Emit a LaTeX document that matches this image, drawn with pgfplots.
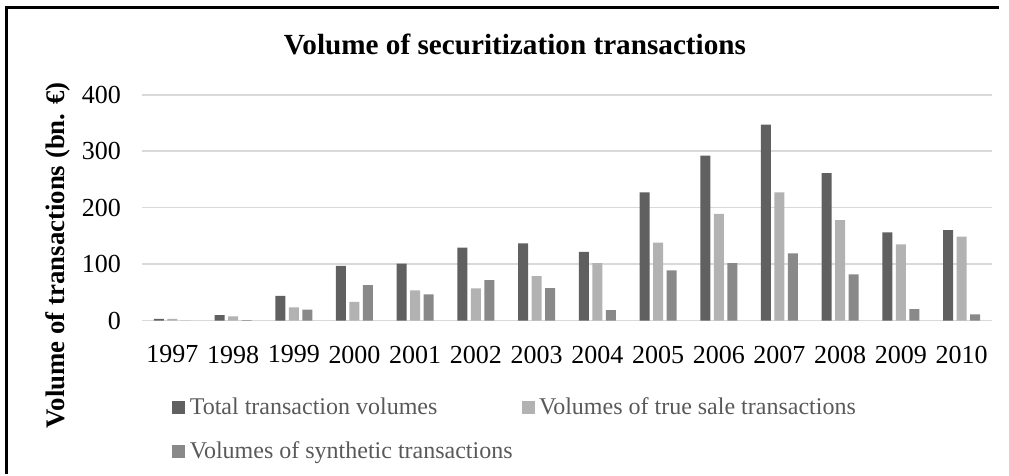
\documentclass[border=0pt]{standalone}
\usepackage{fontspec}
\setmainfont{Liberation Serif}
\usepackage{pgfplots}
\usepackage{pgfplotstable}
\pgfplotsset{compat=1.18}
\definecolor{cTot}{RGB}{96,96,96}
\definecolor{cTrue}{RGB}{178,178,178}
\definecolor{cSyn}{RGB}{137,137,137}
\definecolor{cGrid}{RGB}{217,217,217}
\definecolor{cLeg}{RGB}{89,89,89}

\pgfplotstableread{
x tot tru syn
0 3 3 0
1 10 7.6 1.2
2 44 23.5 19.4
3 97 33.5 63
4 101 53.5 46.5
5 129.5 57 72
6 137 79 57.6
7 122 102 18.8
8 227 138 89
9 292 189 102
10 347 227 119
11 261 178 82
12 156.5 135 20.6
13 160.5 149 11.2
}\datatable

\begin{document}
\begin{tikzpicture}
\path (0pt,0pt) rectangle (504.5pt,237pt);
\draw[line width=1.1pt] (3.25pt,0pt) -- (3.25pt,233.25pt) -- (499.5pt,233.25pt);
\node[anchor=base, font=\bfseries\fontsize{14.6}{17}\selectfont] at (257.5pt,209.5pt) {Volume of securitization transactions};
\begin{axis}[
  at={(71pt,76.65pt)}, anchor=south west,
  scale only axis, width=425pt, height=113pt,
  ybar=1.75pt, bar width=5pt,
  xmin=-0.5, xmax=13.5, ymin=0, ymax=400,
  ytick={0,100,200,300,400},
  xtick=data,
  xticklabels={1997,1998,1999,2000,2001,2002,2003,2004,2005,2006,2007,2008,2009,2010},
  axis line style={draw=none},
  major tick length=0pt,
  ymajorgrids, grid style={cGrid, line width=0.8pt},
  /pgf/number format/assume math mode=true,
  ticklabel style={font=\fontsize{13}{15}\selectfont},
  yticklabel style={xshift=-7pt},
  xticklabel style={yshift=-9pt},
  ylabel={\textbf{Volume of transactions (bn. €)}},
  ylabel style={at={(axis description cs:-0.0988,0.29)}, anchor=center, font=\fontsize{13.4}{15}\selectfont},
  legend columns=2,
  legend cell align=left,
  legend style={draw=none, fill=none, text=cLeg, font=\fontsize{12}{14}\selectfont,
    at={(axis description cs:0.0353,-0.330)}, anchor=north west,
    row sep=9.8pt, inner sep=0pt, nodes={inner sep=1pt},
    /tikz/every odd column/.append style={column sep=1.2pt},
    /tikz/every even column/.append style={column sep=3.5pt}},
  legend image code/.code={\fill[#1] (0pt,-3.25pt) rectangle (6.5pt,3.25pt);},
]
\addplot[fill=cTot, draw=none] table[x=x,y=tot]{\datatable};
\addplot[fill=cTrue, draw=none] table[x=x,y=tru]{\datatable};
\addplot[fill=cSyn, draw=none] table[x=x,y=syn]{\datatable};
\legend{Total transaction volumes, Volumes of true sale transactions, Volumes of synthetic transactions}
\end{axis}
\end{tikzpicture}
\end{document}
